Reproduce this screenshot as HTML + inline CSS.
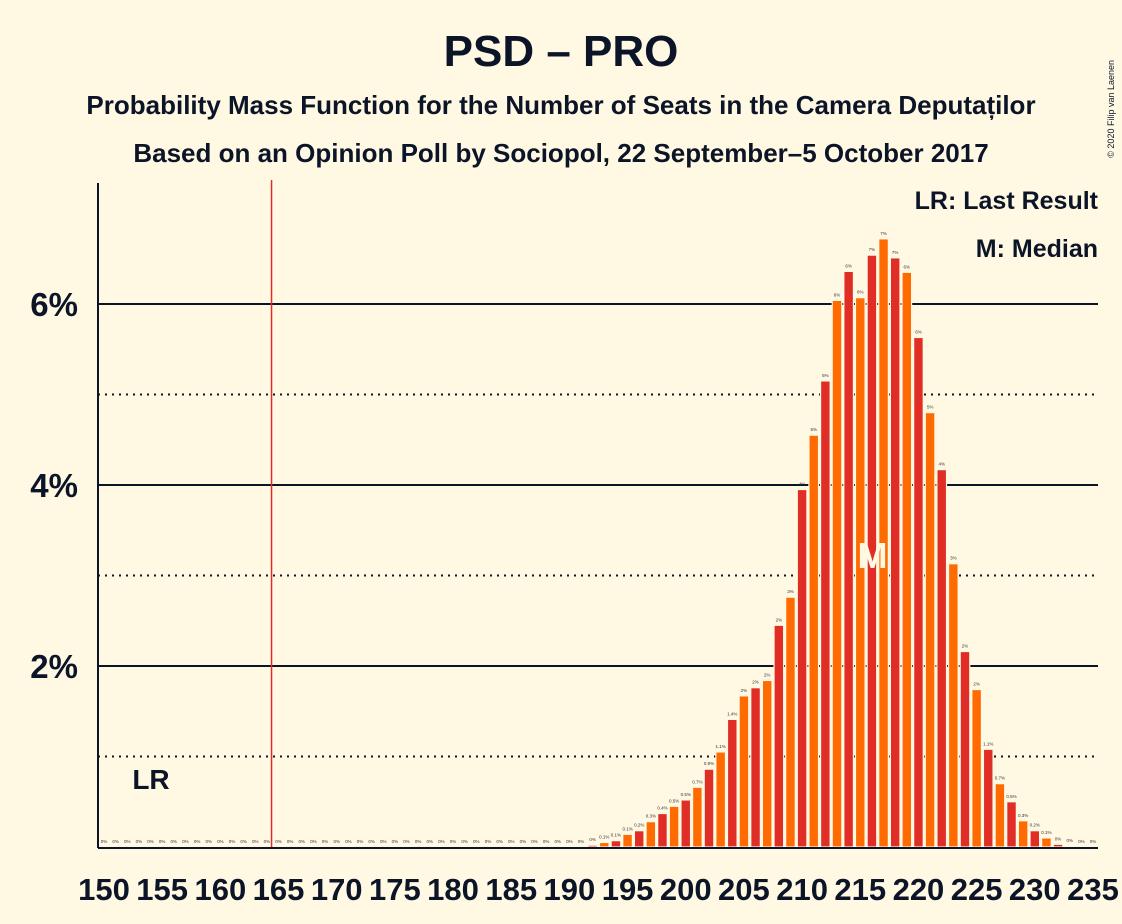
<!DOCTYPE html>
<html><head><meta charset="utf-8"><style>
body{margin:0;background:#fff8e3;}
svg{display:block;font-family:"Liberation Sans",sans-serif;}
</style></head><body>
<svg id="c" width="1122" height="924" viewBox="0 0 1122 924">
<rect width="1122" height="924" fill="#fff8e3"/>
<text x="561" y="66" text-anchor="middle" font-size="44" font-weight="bold" fill="#0b1527">PSD – PRO</text>
<text x="561" y="114" text-anchor="middle" font-size="26" font-weight="bold" fill="#0b1527">Probability Mass Function for the Number of Seats in the Camera Deputaților</text>
<text x="561" y="162" text-anchor="middle" font-size="26" font-weight="bold" fill="#0b1527">Based on an Opinion Poll by Sociopol, 22 September–5 October 2017</text>
<text x="1114" y="60" transform="rotate(-90 1114 60)" text-anchor="end" font-size="9" fill="#0b1527">© 2020 Filip van Laenen</text>
<g id="grid"></g>
<g id="bars"></g>
<g id="xt"></g>
<text x="1098" y="209" text-anchor="end" font-size="25" font-weight="bold" fill="#0b1527">LR: Last Result</text>
<text x="1098" y="257" text-anchor="end" font-size="25" font-weight="bold" fill="#0b1527">M: Median</text>
</svg>
<script>
const seats=[];for(let s=150;s<=235;s++)seats.push(s);
const probs=[0,0,0,0,0,0,0,0,0,0,0,0,0,0,0,0,0,0,0,0,0,0,0,0,0,0,0,0,0,0,0,0,0,0,0,0,0,0,0,0,0,0,0.02,0.05,0.07,0.14,0.18,0.28,0.37,0.45,0.52,0.66,0.86,1.05,1.41,1.67,1.76,1.84,2.45,2.76,3.95,4.55,5.15,6.04,6.36,6.07,6.54,6.72,6.51,6.35,5.63,4.80,4.17,3.13,2.16,1.74,1.08,0.70,0.50,0.29,0.18,0.10,0.03,0.01,0,0];
const yTicks=[2,4,6];
const yMinor=[1,3,5];
const xTicks=[150,155,160,165,170,175,180,185,190,195,200,205,210,215,220,225,230,235];
const lastResult=164.4;
const median=217;
const NS="http://www.w3.org/2000/svg";
const X=s=>104+(s-150)*11.635;
const Y=p=>847-p*90.5;
function mk(tag,attrs,parent,text){const e=document.createElementNS(NS,tag);for(const k in attrs)e.setAttribute(k,attrs[k]);if(text!==undefined)e.textContent=text;document.getElementById(parent).appendChild(e);return e;}
yMinor.forEach(v=>{const l=mk('line',{x1:98,x2:1098,y1:Y(v),y2:Y(v),stroke:'#0b1527','stroke-width':2,'stroke-dasharray':'2,5'},'grid');

});
yTicks.forEach(v=>{const l=mk('line',{x1:98,x2:1098,y1:Y(v),y2:Y(v),stroke:'#0b1527','stroke-width':2},'grid');


const t=mk('text',{x:78,y:Y(v)+12,'text-anchor':'end','font-size':33,'font-weight':'bold',fill:'#0b1527'},'grid',v+'%');

});
const ax=mk('line',{x1:98,x2:98,y1:183,y2:848,stroke:'#0b1527','stroke-width':2},'grid');


seats.forEach((s,i)=>{const p=probs[i];const x=X(s);
if(p>0){const r=mk('rect',{x:x-4.8,y:Y(p),width:9.6,height:847-Y(p),fill:s%2===0?'#e02e26':'#ff6b00',stroke:'#fff8e3','stroke-width':1.2},'bars');

}
const lab=p<0.05?'0%':(p<1.5?p.toFixed(1)+'%':Math.round(p)+'%');
const t=mk('text',{x:x,y:Y(p)-4,'text-anchor':'middle','font-size':4.5,fill:'#333'},'bars',lab);

});
const lr=mk('line',{x1:X(lastResult),x2:X(lastResult),y1:180,y2:848,stroke:'#e02e26','stroke-width':1.5},'bars');


const lrt=mk('text',{x:151,y:789,'text-anchor':'middle','font-size':28,'font-weight':'bold',fill:'#0b1527'},'bars','LR');


const mt=mk('text',{x:X(median)-11,y:568,'text-anchor':'middle','font-size':36,'font-weight':'bold',fill:'#fff8e3'},'bars','M');


const base=mk('line',{x1:98,x2:1098,y1:848,y2:848,stroke:'#0b1527','stroke-width':2},'bars');


xTicks.forEach(s=>{const t=mk('text',{x:X(s),y:900,'text-anchor':'middle','font-size':31,'font-weight':'bold',fill:'#0b1527'},'xt',String(s));

});
</script>
</body></html>
